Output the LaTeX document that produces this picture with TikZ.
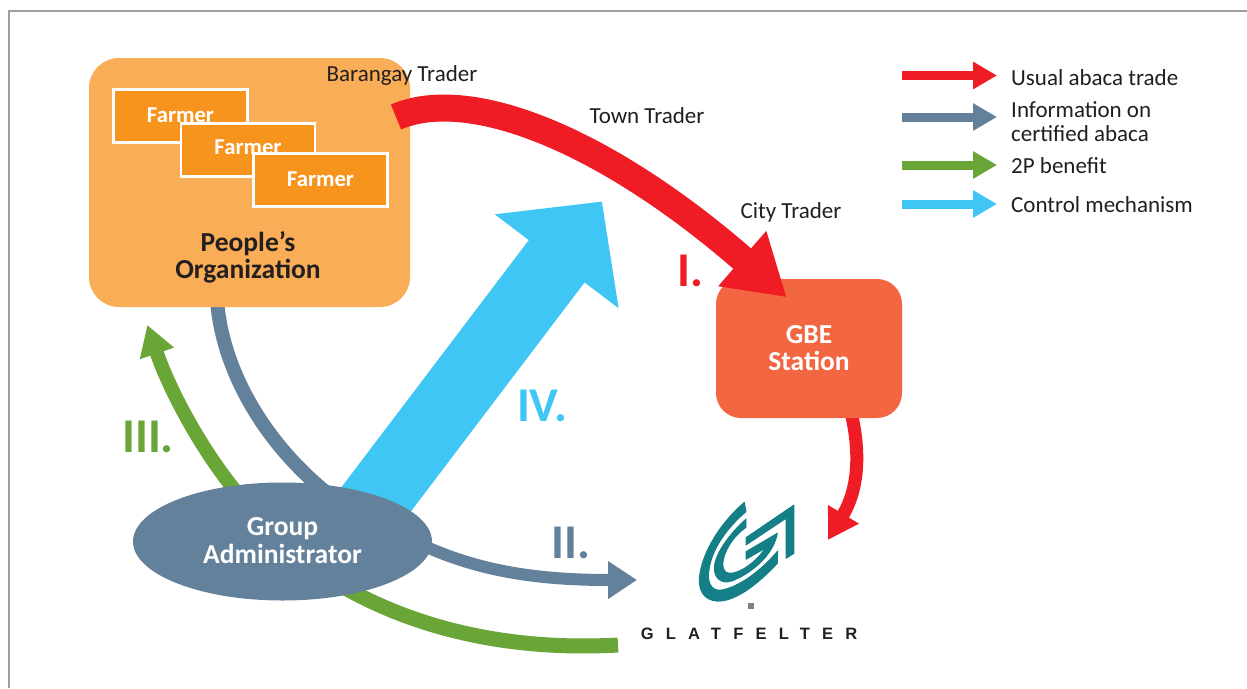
\documentclass[tikz,border=0pt]{standalone}
\usepackage{fontspec}
\setmainfont{Carlito}
\newfontfamily\logofont[LetterSpace=74]{Liberation Sans}
\usetikzlibrary{arrows.meta,shapes.geometric}
\definecolor{cred}{HTML}{EF1C25}
\definecolor{cgrey}{HTML}{64819B}
\definecolor{cgreen}{HTML}{69A537}
\definecolor{cblue}{HTML}{3FC6F5}
\definecolor{corg}{HTML}{F9AD56}
\definecolor{cfarm}{HTML}{F7941E}
\definecolor{cgbe}{HTML}{F26641}
\definecolor{cteal}{HTML}{147F86}
\definecolor{ctext}{HTML}{231F20}
\tikzset{
  farmerbox/.style={draw=white,line width=2.2pt,fill=cfarm,minimum width=134pt,minimum height=53pt,inner sep=0pt,text=white,font=\fontsize{22.7}{24}\selectfont\bfseries},
  plain/.style={inner sep=0pt,text=ctext,font=\fontsize{23}{24}\selectfont,align=left},
  title/.style={inner sep=0pt,align=center,font=\fontsize{27.5}{27}\selectfont\bfseries},
  roman/.style={inner sep=0pt,font=\fontsize{48.5}{48}\selectfont\bfseries},
  legbar/.style={line width=9pt,-{Triangle[length=24pt,width=26pt]}},
  flow/.style={line cap=butt},
  logopart/.style={fill=cteal,draw=cteal,line width=0.9pt,line join=round}
}
\begin{document}
\begin{tikzpicture}[x=1pt,y=-1pt]
\useasboundingbox (0,0) rectangle (1247,688);
\fill[white] (0,0) rectangle (1247,688);
\draw[color=black!38,line width=1.5pt] (9,688) -- (9,11) -- (1247,11);

% named free ends
\coordinate (poOut) at (217,300);
\coordinate (gaIn) at (332,497);
\coordinate (gaGreen) at (243,500);
\coordinate (poTip) at (147.3,325);
\coordinate (gaBlue) at (357,524.6);
\coordinate (blueTip) at (602,201.5);
\coordinate (gaGrey) at (420,544);
\coordinate (logoW) at (637,580);
\coordinate (gaLow) at (340,585);
\coordinate (logoS) at (618,645);
\coordinate (redStart) at (396,117);
\coordinate (gbeTip) at (786.7,297.3);
\coordinate (gbeOut) at (851,412);
\coordinate (logoE) at (828,540);

% connectors under the nodes
\draw[flow,cgrey,line width=14pt] (poOut) .. controls (222,370) and (265,445) .. (gaIn);
\draw[flow,cblue,line width=70pt,-{Triangle[length=75pt,width=151pt]}] (gaBlue) -- (blueTip);
\draw[flow,cgreen,line width=14pt,-{Triangle[length=30pt,width=34pt]}] (gaGreen) .. controls (200,450) and (168,386) .. (poTip);
\draw[flow,cgreen,line width=15pt] (gaLow) .. controls (430,637) and (530,650) .. (logoS);
\draw[flow,cgrey,line width=12pt,-{Triangle[length=29pt,width=36pt]}] (gaGrey) .. controls (480,572) and (540,580) .. (logoW);
\draw[flow,cred,line width=13pt,-{Triangle[length=30pt,width=34pt]}] (gbeOut) .. controls (861,455) and (858,490) .. (logoE);

% People's Organization
\node[fill=corg,rounded corners=30pt,minimum width=321pt,minimum height=249pt,inner sep=0pt] (po) at (249.5,182.5) {};
\node[farmerbox] (f1) at (180.5,116) {\raisebox{2pt}{Farmer}};
\node[farmerbox] (f2) at (248,150) {\raisebox{6pt}{Farmer}};
\node[farmerbox] (f3) at (320.5,180) {\raisebox{1pt}{Farmer}};
\node[title,text=ctext] (potext) at (248,257.5) {People’s\\Organization};

% GBE station and administrator
\node[fill=cgbe,rounded corners=25pt,minimum width=186pt,minimum height=139pt,inner sep=0pt,title,text=white] (gbe) at (809,348.5) {GBE\\Station};
\node[ellipse,fill=cgrey,minimum width=299pt,minimum height=118pt,inner sep=0pt,title,text=white] (ga) at (282.5,541.5) {\raisebox{2pt}{\shortstack{Group\\[1pt]Administrator}}};

% usual trade
\draw[flow,cred,line width=27pt,-{Triangle[length=59pt,width=69pt]}] (redStart) .. controls (470,85) and (606,140) .. (gbeTip);

% traders
\node[plain] (t1) at (402,75.5) {Barangay Trader};
\node[plain] (t2) at (647,116) {Town Trader};
\node[plain] (t3) at (791,212) {City Trader};

% roman labels
\node[roman,text=cred] (r1) at (690,271) {I.};
\node[roman,text=cgrey] (r2) at (571,543) {II.};
\node[roman,text=cgreen] (r3) at (148,437) {III.};
\node[roman,text=cblue] (r4) at (542,406) {IV.};

% logo
\begin{scope}[shift={(685,495)},x=0.3333pt,y=-0.3333pt]
\path[logopart] (178,22) .. controls (110,80) and (50,170) .. (43,250) .. controls (40,300) and (70,322) .. (110,318) .. controls (170,310) and (235,250) .. (277,205) -- (278,168) .. controls (230,225) and (165,275) .. (110,285) .. controls (75,290) and (66,255) .. (72,225) .. controls (80,160) and (130,95) .. (183,50) -- cycle;
\path[logopart] (183,72) .. controls (130,120) and (88,180) .. (88,220) .. controls (88,250) and (110,268) .. (140,258) .. controls (190,240) and (265,185) .. (277,115) -- (183,170) -- (183,193) -- (240,160) .. controls (215,200) and (165,235) .. (135,235) .. controls (115,235) and (110,215) .. (116,190) .. controls (125,155) and (150,120) .. (183,97) -- cycle;
\path[logopart] (183,128) -- (327,30) -- (327,175) -- (303,190) -- (303,70) -- (183,150) -- cycle;
\fill[black!50] (190,325) rectangle (206,341);
\end{scope}
\node[inner sep=0pt,text=ctext,font=\logofont\fontsize{16.5}{18}\selectfont\bfseries] (logo) at (749,634) {GLATFELTER};

% legend
\coordinate (l1a) at (902,75.5); \coordinate (l1b) at (997,75.5);
\coordinate (l2a) at (902,117); \coordinate (l2b) at (997,117);
\coordinate (l3a) at (902,165); \coordinate (l3b) at (997,165);
\coordinate (l4a) at (902,204); \coordinate (l4b) at (997,204);
\draw[legbar,cred] (l1a) -- (l1b);
\draw[legbar,cgrey] (l2a) -- (l2b);
\draw[legbar,cgreen] (l3a) -- (l3b);
\draw[legbar,cblue] (l4a) -- (l4b);
\node[plain,anchor=west] (k1) at (1011,78) {Usual abaca trade};
\node[plain,anchor=west] (k2) at (1011,121.5) {Information on\\certified abaca};
\node[plain,anchor=west] (k3) at (1011,166) {2P benefit};
\node[plain,anchor=west] (k4) at (1011,205) {Control mechanism};
\end{tikzpicture}
\end{document}
